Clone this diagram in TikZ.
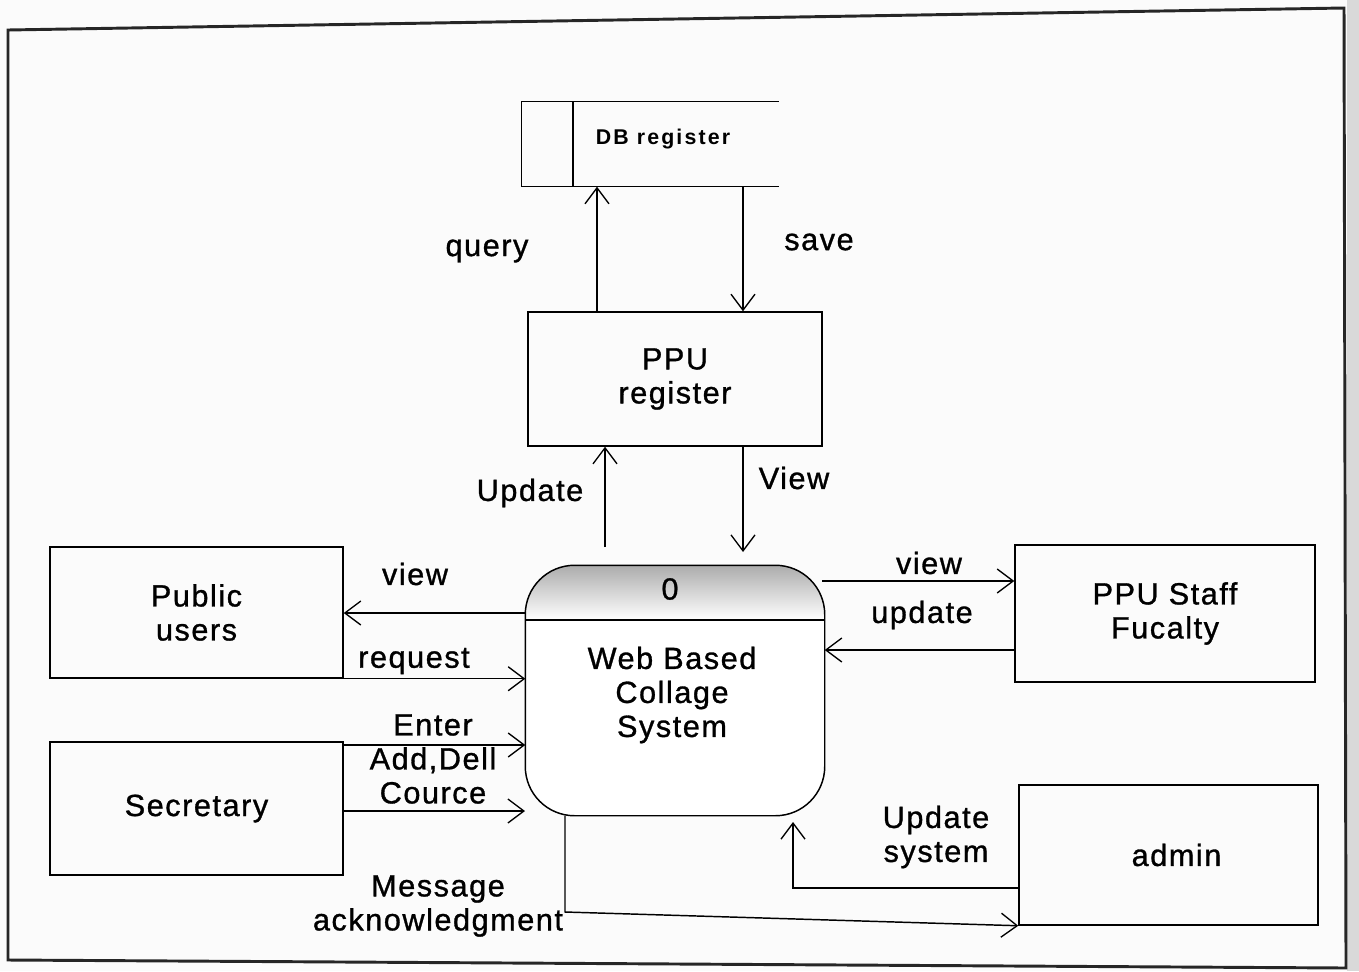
\documentclass[tikz,border=0pt]{standalone}
\usepackage{fontspec}
\setmainfont{Liberation Sans}
\newfontfamily\lblfont[LetterSpace=5,FakeBold=1]{Liberation Sans}
\newfontfamily\dbfont[LetterSpace=10]{Liberation Sans}
\usetikzlibrary{arrows.meta,calc}
\begin{document}
\begin{tikzpicture}[x=0.75pt,y=-0.75pt,
  line width=1.1pt,
  arr/.style={-{Straight Barb[length=12pt,width=18pt,line width=1pt]}},
  ent/.style={draw,rectangle,inner sep=0pt,align=center,font=\lblfont\fontsize{23}{25.5}\selectfont},
  lbl/.style={inner sep=0pt,align=center,font=\lblfont\fontsize{23}{25.5}\selectfont},
  frame/.style={line width=2.2pt,black!85}]
% page
\useasboundingbox (0,0) rectangle (1359,971);
\fill[white!97!gray] (0,0) rectangle (1359,971);
\fill[gray!30] (1347,0) rectangle (1359,971);
\draw[frame] (8,30) -- (1344,8) -- (1346,968) -- (8,960) -- cycle;

% data store
\node[minimum width=192pt,minimum height=63pt,inner sep=0pt] (db) at (650,144) {};
\draw (db.north east) -- (db.north west) -- (db.south west) -- (db.south east);
\draw (573,0 |- db.north) -- (573,0 |- db.south);
\node[inner sep=0pt,font=\dbfont\bfseries\fontsize{16}{18}\selectfont] (dbt) at (663,139) {DB register};

% entities
\node[ent,minimum width=220.5pt,minimum height=100.5pt] (ppu) at (675,379) {PPU\\register};
\node[ent,minimum width=219.75pt,minimum height=98.25pt] (pub) at (196.5,612.5) {Public\\users};
\node[ent,minimum width=219.75pt,minimum height=99.75pt] (sec) at (196.5,808.5) {Secretary};
\node[ent,minimum width=225pt,minimum height=102.75pt] (staff) at (1165,613.5) {PPU Staff\\Fucalty};
\node[ent,minimum width=224.25pt,minimum height=105pt] (adm) at (1168.5,855) {\hspace*{12pt}admin};

% process
\node[minimum width=223.5pt,minimum height=186.75pt,inner sep=0pt] (proc) at (675,690.5) {};
\begin{scope}
  \clip[rounded corners=37pt] (proc.south west) rectangle (proc.north east);
  \shade[top color=gray!65,bottom color=white] (proc.north west) rectangle (proc.east |- 0,620);
  \fill[white] (proc.west |- 0,620) rectangle (proc.south east);
\end{scope}
\draw[rounded corners=37pt] (proc.south west) rectangle (proc.north east);
\draw (proc.west |- 0,620) -- (proc.east |- 0,620);
\node[lbl] (pid) at (670,589) {0};
\node[lbl] (ptxt) at (672,695) {Web Based\\Collage\\System};

% flows
\draw[arr] (597,0 |- ppu.north) -- (597,0 |- db.south);
\draw[arr] (743,0 |- db.south) -- (743,0 |- ppu.north);
\coordinate (updst) at (605,547);
\draw[arr] (updst) -- (605,0 |- ppu.south);
\coordinate (viewend) at (743,552);
\draw[arr] (743,0 |- ppu.south) -- (viewend);
\draw[arr] (proc.west |- 0,613) -- (pub.east |- 0,613);
\draw[arr] (pub.south east) -- (proc.west |- pub.south east);
\draw[arr] (sec.east |- 0,745) -- (proc.west |- 0,745);
\coordinate (courend) at (525,811);
\draw[arr] (sec.east |- 0,811) -- (courend);
\coordinate (msgc) at (565,912);
\draw[arr] (565,0 |- proc.south) -- (msgc) -- (adm.south west);
\coordinate (usc) at (793,888);
\draw[arr] (adm.west |- usc) -- (usc) -- (793,822);
\coordinate (vst) at (822,581);
\draw[arr] (vst) -- (staff.west |- vst);
\draw[arr] (staff.west |- 0,650) -- (proc.east |- 0,650);

% labels
\node[lbl] (lq) at (487,251) {query};
\node[lbl] (ls) at (819,242) {save};
\node[lbl] (lu) at (530,493) {Update};
\node[lbl] (lv) at (794,478) {View};
\node[lbl] (lpv) at (415,574) {view};
\node[lbl] (lreq) at (414,661) {request};
\node[lbl] (lent) at (433,759) {Enter\\Add,Dell\\Cource};
\node[lbl] (lmsg) at (438,906) {Message\\acknowledgment};
\node[lbl] (lsv) at (929,563) {view};
\node[lbl] (lsu) at (922,615) {update};
\node[lbl] (lus) at (936,837) {Update\\system};
\end{tikzpicture}
\end{document}
